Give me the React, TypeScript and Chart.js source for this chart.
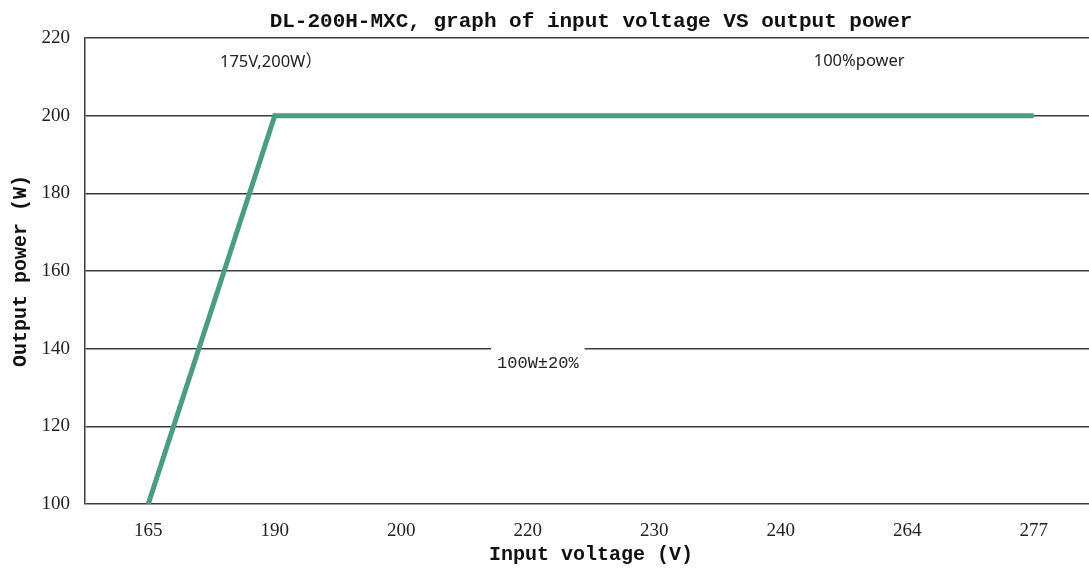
import React, { useEffect, useRef } from 'react';
import { Chart, registerables } from 'chart.js';

Chart.register(...registerables);

// ---- data ----
const categories = ['165', '190', '200', '220', '230', '240', '264', '277'];
const outputPower = [100, 200, 200, 200, 200, 200, 200, 200];
const yMin = 100;
const yMax = 220;
const yStep = 20;

const chartTitle = 'DL-200H-MXC, graph of input voltage VS output power';
const xTitle = 'Input voltage (V)';
const yTitle = 'Output power (W)';

// text notes, placed in data units (category index, watts)
const noteTexts = ['175V,200W）', '100%power', '100W±20%'];
const noteIndex = [0.97, 5.62, 3.08];
const noteWatts = [213.8, 214.1, 136.3];

const LINE_COLOR = '#4a9c83';
const GRID_COLOR = '#3c3c3c';

const notesPlugin = {
  id: 'textNotes',
  afterDatasetsDraw(chart: any) {
    const { ctx, scales } = chart;
    const x = scales.x;
    const y = scales.y;
    ctx.save();
    noteTexts.forEach((t, i) => {
      const px = x.getPixelForValue(noteIndex[i]);
      const py = y.getPixelForValue(noteWatts[i]);
      const boxed = i === 2;
      ctx.font = boxed
        ? '17px "Liberation Mono", monospace'
        : '16.5px "Noto Sans", "Noto Sans CJK SC", sans-serif';
      ctx.textAlign = 'center';
      ctx.textBaseline = 'middle';
      if (boxed) {
        const w = ctx.measureText(t).width + 12;
        ctx.fillStyle = '#ffffff';
        ctx.fillRect(px - w / 2, py - 17, w, 34);
      }
      ctx.fillStyle = '#222222';
      ctx.fillText(t, px, py);
    });
    ctx.restore();
  },
};

export default function App() {
  const ref = useRef<HTMLCanvasElement | null>(null);

  useEffect(() => {
    if (!ref.current) return;
    const chart = new Chart(ref.current, {
      type: 'line',
      data: {
        labels: categories,
        datasets: [
          {
            data: outputPower,
            borderColor: LINE_COLOR,
            backgroundColor: LINE_COLOR,
            borderWidth: 5,
            pointRadius: 0,
            tension: 0,
            borderJoinStyle: 'miter',
            fill: false,
          },
        ],
      },
      options: {
        responsive: false,
        animation: false,
        devicePixelRatio: 1,
        layout: { padding: { left: 0, right: 3, top: 0, bottom: 0 } },
        plugins: {
          legend: { display: false },
          tooltip: { enabled: false },
          title: {
            display: true,
            text: chartTitle,
            fullSize: false,
            color: '#111111',
            font: { family: '"Liberation Mono", monospace', size: 21, weight: 'bold' },
            padding: { top: 9, bottom: 4 },
          },
        },
        scales: {
          x: {
            type: 'category',
            offset: true,
            grid: { display: false, drawTicks: false },
            border: { display: false },
            ticks: {
              color: '#222222',
              padding: 16,
              maxRotation: 0,
              autoSkip: false,
              font: { family: '"Liberation Serif", serif', size: 19 },
            },
            title: {
              display: true,
              text: xTitle,
              color: '#111111',
              font: { family: '"Liberation Mono", monospace', size: 20, weight: 'bold' },
              padding: { top: 0, bottom: 2 },
            },
            afterFit: (s: any) => {
              s.height = 65;
            },
          },
          y: {
            min: yMin,
            max: yMax,
            ticks: {
              stepSize: yStep,
              color: '#222222',
              padding: 15,
              font: { family: '"Liberation Serif", serif', size: 19 },
            },
            grid: { color: GRID_COLOR, lineWidth: 1.5, drawTicks: false },
            border: { display: true, color: GRID_COLOR, width: 1.5 },
            title: {
              display: true,
              text: yTitle,
              color: '#111111',
              font: { family: '"Liberation Mono", monospace', size: 20, weight: 'bold' },
              padding: { top: 9, bottom: 0 },
            },
            afterFit: (s: any) => {
              s.width = 85;
            },
          },
        },
      },
      plugins: [notesPlugin],
    });
    return () => chart.destroy();
  }, []);

  return (
    <div
      style={{
        position: 'fixed',
        left: 0,
        top: 0,
        width: 1089,
        height: 569,
        overflow: 'hidden',
        background: '#ffffff',
      }}
    >
      <canvas ref={ref} width={1100} height={569} style={{ display: 'block', width: 1100, height: 569 }} />
    </div>
  );
}
